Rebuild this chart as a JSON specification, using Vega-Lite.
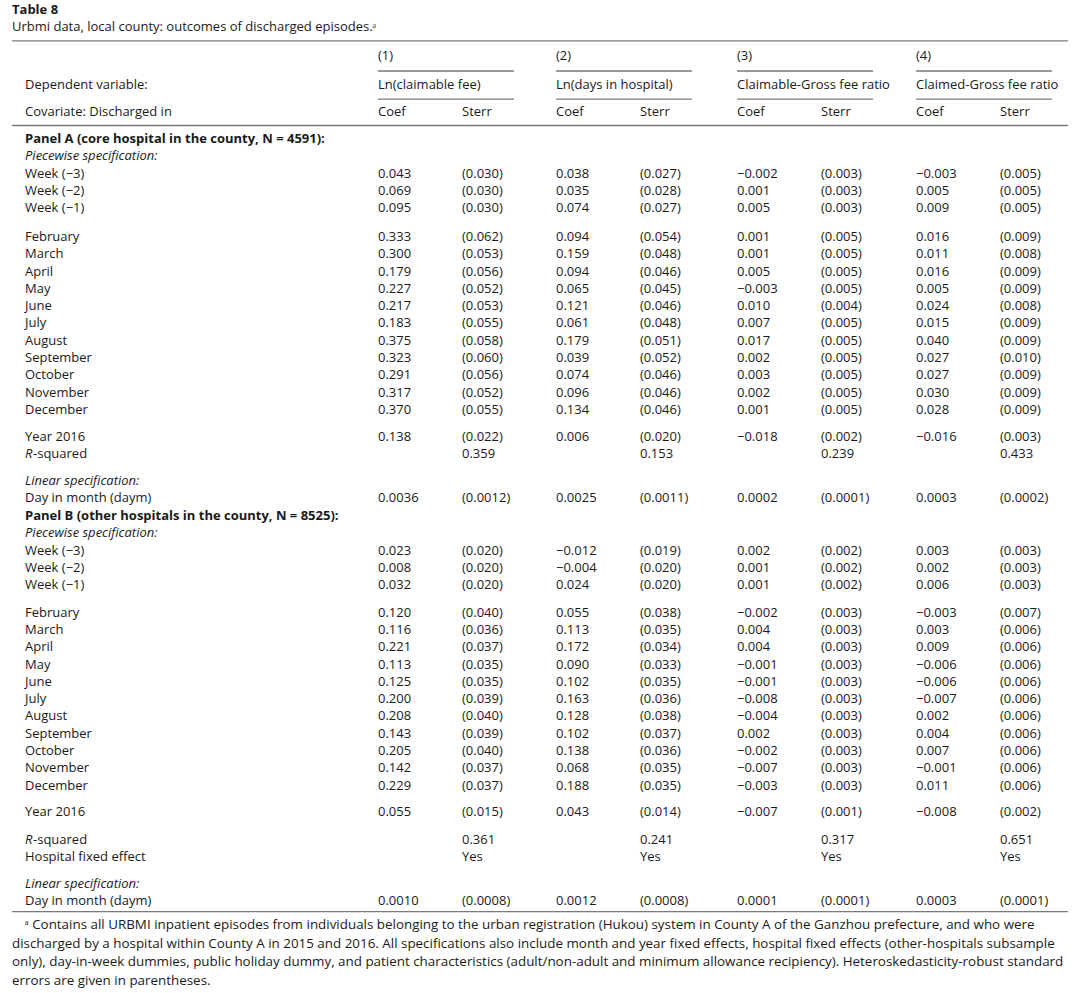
{
 "$schema": "https://vega.github.io/schema/vega-lite/v6.json",
 "width": 1080, "height": 993,
 "autosize": {"type": "fit", "contains": "padding"},
 "padding": 0,
 "background": "white",
 "config": {"view": {"stroke": null}, "text": {"font": "Open Sans", "fontSize": 13, "color": "#1a1a1a", "align": "left", "baseline": "middle"}},
 "datasets": {
  "cols": [
   {"key": "t0", "col": 0}, {"key": "lab", "col": 1}, {"key": "li", "col": 1}, {"key": "lr", "col": 1},
   {"key": "c1", "col": 2}, {"key": "s1", "col": 3},
   {"key": "c2", "col": 4}, {"key": "s2", "col": 5},
   {"key": "c3", "col": 6}, {"key": "s3", "col": 7},
   {"key": "c4", "col": 8}, {"key": "s4", "col": 9}
  ],
  "rules": [
   {"r": -5.67, "a": 0, "b": 10, "kind": "full"},
   {"r": -0.78, "a": 0, "b": 10, "kind": "full"},
   {"r": 44.66, "a": 0, "b": 10, "kind": "full"},
   {"r": -3.93, "a": 2, "b": 3, "kind": "under"},
   {"r": -3.93, "a": 4, "b": 5, "kind": "under"},
   {"r": -3.93, "a": 6, "b": 7, "kind": "under"},
   {"r": -3.93, "a": 8, "b": 9, "kind": "under"},
   {"r": -2.30, "a": 2, "b": 3, "kind": "under"},
   {"r": -2.30, "a": 4, "b": 5, "kind": "under"},
   {"r": -2.30, "a": 6, "b": 7, "kind": "under"},
   {"r": -2.30, "a": 8, "b": 9, "kind": "under"}
  ],
  "rows": [
   {"r": -7.47, "role": "title", "t0": "Table 8"},
   {"r": -6.5, "role": "caption", "t0": "Urbmi data, local county: outcomes of discharged episodes.ᵃ"},
   {"r": -4.82, "role": "head", "c1": "(1)", "c2": "(2)", "c3": "(3)", "c4": "(4)"},
   {"r": -3.14, "role": "head", "lab": "Dependent variable:", "c1": "Ln(claimable fee)", "c2": "Ln(days in hospital)", "c3": "Claimable-Gross fee ratio", "c4": "Claimed-Gross fee ratio"},
   {"r": -1.55, "role": "head", "lab": "Covariate: Discharged in", "c1": "Coef", "s1": "Sterr", "c2": "Coef", "s2": "Sterr", "c3": "Coef", "s3": "Sterr", "c4": "Coef", "s4": "Sterr"},

   {"r": 0, "role": "panel", "lab": "Panel A (core hospital in the county, N = 4591):"},
   {"r": 1, "role": "spec", "lab": "Piecewise specification:"},
   {"r": 2, "role": "row", "lab": "Week (−3)", "c1": "0.043", "s1": "(0.030)", "c2": "0.038", "s2": "(0.027)", "c3": "−0.002", "s3": "(0.003)", "c4": "−0.003", "s4": "(0.005)"},
   {"r": 3, "role": "row", "lab": "Week (−2)", "c1": "0.069", "s1": "(0.030)", "c2": "0.035", "s2": "(0.028)", "c3": "0.001", "s3": "(0.003)", "c4": "0.005", "s4": "(0.005)"},
   {"r": 4, "role": "row", "lab": "Week (−1)", "c1": "0.095", "s1": "(0.030)", "c2": "0.074", "s2": "(0.027)", "c3": "0.005", "s3": "(0.003)", "c4": "0.009", "s4": "(0.005)"},
   {"r": 5.66, "role": "row", "lab": "February", "c1": "0.333", "s1": "(0.062)", "c2": "0.094", "s2": "(0.054)", "c3": "0.001", "s3": "(0.005)", "c4": "0.016", "s4": "(0.009)"},
   {"r": 6.66, "role": "row", "lab": "March", "c1": "0.300", "s1": "(0.053)", "c2": "0.159", "s2": "(0.048)", "c3": "0.001", "s3": "(0.005)", "c4": "0.011", "s4": "(0.008)"},
   {"r": 7.66, "role": "row", "lab": "April", "c1": "0.179", "s1": "(0.056)", "c2": "0.094", "s2": "(0.046)", "c3": "0.005", "s3": "(0.005)", "c4": "0.016", "s4": "(0.009)"},
   {"r": 8.66, "role": "row", "lab": "May", "c1": "0.227", "s1": "(0.052)", "c2": "0.065", "s2": "(0.045)", "c3": "−0.003", "s3": "(0.005)", "c4": "0.005", "s4": "(0.009)"},
   {"r": 9.66, "role": "row", "lab": "June", "c1": "0.217", "s1": "(0.053)", "c2": "0.121", "s2": "(0.046)", "c3": "0.010", "s3": "(0.004)", "c4": "0.024", "s4": "(0.008)"},
   {"r": 10.66, "role": "row", "lab": "July", "c1": "0.183", "s1": "(0.055)", "c2": "0.061", "s2": "(0.048)", "c3": "0.007", "s3": "(0.005)", "c4": "0.015", "s4": "(0.009)"},
   {"r": 11.66, "role": "row", "lab": "August", "c1": "0.375", "s1": "(0.058)", "c2": "0.179", "s2": "(0.051)", "c3": "0.017", "s3": "(0.005)", "c4": "0.040", "s4": "(0.009)"},
   {"r": 12.66, "role": "row", "lab": "September", "c1": "0.323", "s1": "(0.060)", "c2": "0.039", "s2": "(0.052)", "c3": "0.002", "s3": "(0.005)", "c4": "0.027", "s4": "(0.010)"},
   {"r": 13.66, "role": "row", "lab": "October", "c1": "0.291", "s1": "(0.056)", "c2": "0.074", "s2": "(0.046)", "c3": "0.003", "s3": "(0.005)", "c4": "0.027", "s4": "(0.009)"},
   {"r": 14.66, "role": "row", "lab": "November", "c1": "0.317", "s1": "(0.052)", "c2": "0.096", "s2": "(0.046)", "c3": "0.002", "s3": "(0.005)", "c4": "0.030", "s4": "(0.009)"},
   {"r": 15.66, "role": "row", "lab": "December", "c1": "0.370", "s1": "(0.055)", "c2": "0.134", "s2": "(0.046)", "c3": "0.001", "s3": "(0.005)", "c4": "0.028", "s4": "(0.009)"},
   {"r": 17.23, "role": "row", "lab": "Year 2016", "c1": "0.138", "s1": "(0.022)", "c2": "0.006", "s2": "(0.020)", "c3": "−0.018", "s3": "(0.002)", "c4": "−0.016", "s4": "(0.003)"},
   {"r": 18.23, "role": "row", "li": "R", "lr": "-squared", "s1": "0.359", "s2": "0.153", "s3": "0.239", "s4": "0.433"},
   {"r": 19.77, "role": "spec", "lab": "Linear specification:"},
   {"r": 20.77, "role": "row", "lab": "Day in month (daym)", "c1": "0.0036", "s1": "(0.0012)", "c2": "0.0025", "s2": "(0.0011)", "c3": "0.0002", "s3": "(0.0001)", "c4": "0.0003", "s4": "(0.0002)"},

   {"r": 21.79, "role": "panel", "lab": "Panel B (other hospitals in the county, N = 8525):"},
   {"r": 22.79, "role": "spec", "lab": "Piecewise specification:"},
   {"r": 23.79, "role": "row", "lab": "Week (−3)", "c1": "0.023", "s1": "(0.020)", "c2": "−0.012", "s2": "(0.019)", "c3": "0.002", "s3": "(0.002)", "c4": "0.003", "s4": "(0.003)"},
   {"r": 24.79, "role": "row", "lab": "Week (−2)", "c1": "0.008", "s1": "(0.020)", "c2": "−0.004", "s2": "(0.020)", "c3": "0.001", "s3": "(0.002)", "c4": "0.002", "s4": "(0.003)"},
   {"r": 25.79, "role": "row", "lab": "Week (−1)", "c1": "0.032", "s1": "(0.020)", "c2": "0.024", "s2": "(0.020)", "c3": "0.001", "s3": "(0.002)", "c4": "0.006", "s4": "(0.003)"},
   {"r": 27.38, "role": "row", "lab": "February", "c1": "0.120", "s1": "(0.040)", "c2": "0.055", "s2": "(0.038)", "c3": "−0.002", "s3": "(0.003)", "c4": "−0.003", "s4": "(0.007)"},
   {"r": 28.38, "role": "row", "lab": "March", "c1": "0.116", "s1": "(0.036)", "c2": "0.113", "s2": "(0.035)", "c3": "0.004", "s3": "(0.003)", "c4": "0.003", "s4": "(0.006)"},
   {"r": 29.38, "role": "row", "lab": "April", "c1": "0.221", "s1": "(0.037)", "c2": "0.172", "s2": "(0.034)", "c3": "0.004", "s3": "(0.003)", "c4": "0.009", "s4": "(0.006)"},
   {"r": 30.38, "role": "row", "lab": "May", "c1": "0.113", "s1": "(0.035)", "c2": "0.090", "s2": "(0.033)", "c3": "−0.001", "s3": "(0.003)", "c4": "−0.006", "s4": "(0.006)"},
   {"r": 31.38, "role": "row", "lab": "June", "c1": "0.125", "s1": "(0.035)", "c2": "0.102", "s2": "(0.035)", "c3": "−0.001", "s3": "(0.003)", "c4": "−0.006", "s4": "(0.006)"},
   {"r": 32.38, "role": "row", "lab": "July", "c1": "0.200", "s1": "(0.039)", "c2": "0.163", "s2": "(0.036)", "c3": "−0.008", "s3": "(0.003)", "c4": "−0.007", "s4": "(0.006)"},
   {"r": 33.38, "role": "row", "lab": "August", "c1": "0.208", "s1": "(0.040)", "c2": "0.128", "s2": "(0.038)", "c3": "−0.004", "s3": "(0.003)", "c4": "0.002", "s4": "(0.006)"},
   {"r": 34.38, "role": "row", "lab": "September", "c1": "0.143", "s1": "(0.039)", "c2": "0.102", "s2": "(0.037)", "c3": "0.002", "s3": "(0.003)", "c4": "0.004", "s4": "(0.006)"},
   {"r": 35.38, "role": "row", "lab": "October", "c1": "0.205", "s1": "(0.040)", "c2": "0.138", "s2": "(0.036)", "c3": "−0.002", "s3": "(0.003)", "c4": "0.007", "s4": "(0.006)"},
   {"r": 36.38, "role": "row", "lab": "November", "c1": "0.142", "s1": "(0.037)", "c2": "0.068", "s2": "(0.035)", "c3": "−0.007", "s3": "(0.003)", "c4": "−0.001", "s4": "(0.006)"},
   {"r": 37.38, "role": "row", "lab": "December", "c1": "0.229", "s1": "(0.037)", "c2": "0.188", "s2": "(0.035)", "c3": "−0.003", "s3": "(0.003)", "c4": "0.011", "s4": "(0.006)"},
   {"r": 38.9, "role": "row", "lab": "Year 2016", "c1": "0.055", "s1": "(0.015)", "c2": "0.043", "s2": "(0.014)", "c3": "−0.007", "s3": "(0.001)", "c4": "−0.008", "s4": "(0.002)"},
   {"r": 40.5, "role": "row", "li": "R", "lr": "-squared", "s1": "0.361", "s2": "0.241", "s3": "0.317", "s4": "0.651"},
   {"r": 41.5, "role": "row", "lab": "Hospital fixed effect", "s1": "Yes", "s2": "Yes", "s3": "Yes", "s4": "Yes"},
   {"r": 43.06, "role": "spec", "lab": "Linear specification:"},
   {"r": 44.06, "role": "row", "lab": "Day in month (daym)", "c1": "0.0010", "s1": "(0.0008)", "c2": "0.0012", "s2": "(0.0008)", "c3": "0.0001", "s3": "(0.0001)", "c4": "0.0003", "s4": "(0.0001)"},

   {"r": 45.44, "role": "note", "lab": "ᵃ Contains all URBMI inpatient episodes from individuals belonging to the urban registration (Hukou) system in County A of the Ganzhou prefecture, and who were"},
   {"r": 46.52, "role": "note", "t0": "discharged by a hospital within County A in 2015 and 2016. All specifications also include month and year fixed effects, hospital fixed effects (other-hospitals subsample"},
   {"r": 47.6, "role": "note", "t0": "only), day-in-week dummies, public holiday dummy, and patient characteristics (adult/non-adult and minimum allowance recipiency). Heteroskedasticity-robust standard"},
   {"r": 48.68, "role": "note", "t0": "errors are given in parentheses."}
  ]
 },
 "layer": [
  {
   "data": {"name": "rules"},
   "transform": [{"filter": "datum.kind == 'full'"}],
   "mark": {"type": "rule", "color": "#7a7a7a", "strokeWidth": 1.4},
   "encoding": {
    "x": {"field": "a", "type": "quantitative", "axis": null, "scale": {"domain": [0, 1, 2, 3, 4, 5, 6, 7, 8, 9, 10], "range": [12, 25, 378, 462, 556, 640, 737, 821, 916, 1000, 1068], "zero": false, "nice": false}},
    "x2": {"field": "b"},
    "y": {"field": "r", "type": "quantitative", "axis": null, "scale": {"domain": [0, 40], "range": [139, 831], "zero": false, "nice": false}}
   }
  },
  {
   "data": {"name": "rules"},
   "transform": [{"filter": "datum.kind == 'under'"}],
   "mark": {"type": "rule", "color": "#7a7a7a", "strokeWidth": 1.3, "x2Offset": 52},
   "encoding": {
    "x": {"field": "a", "type": "quantitative", "axis": null, "scale": {"domain": [0, 1, 2, 3, 4, 5, 6, 7, 8, 9, 10], "range": [12, 25, 378, 462, 556, 640, 737, 821, 916, 1000, 1068], "zero": false, "nice": false}},
    "x2": {"field": "b"},
    "y": {"field": "r", "type": "quantitative", "axis": null, "scale": {"domain": [0, 40], "range": [139, 831], "zero": false, "nice": false}}
   }
  },
  {
   "data": {"name": "rows"},
   "transform": [
    {"fold": ["t0", "lab", "li", "lr", "c1", "s1", "c2", "s2", "c3", "s3", "c4", "s4"], "as": ["key", "t"]},
    {"filter": "isValid(datum.t)"},
    {"lookup": "key", "from": {"data": {"name": "cols"}, "key": "key", "fields": ["col"]}}
   ],
   "encoding": {
    "x": {"field": "col", "type": "quantitative", "axis": null, "scale": {"domain": [0, 1, 2, 3, 4, 5, 6, 7, 8, 9, 10], "range": [12, 25, 378, 462, 556, 640, 737, 821, 916, 1000, 1068], "zero": false, "nice": false}},
    "y": {"field": "r", "type": "quantitative", "axis": null, "scale": {"domain": [0, 40], "range": [139, 831], "zero": false, "nice": false}},
    "text": {"field": "t", "type": "nominal"}
   },
   "layer": [
    {"transform": [{"filter": "datum.role != 'panel' && datum.role != 'title' && datum.role != 'spec' && datum.role != 'note' && datum.key != 'li' && datum.key != 'lr'"}], "mark": {"type": "text"}},
    {"transform": [{"filter": "datum.role == 'note'"}], "mark": {"type": "text", "fontSize": 13.4}},
    {"transform": [{"filter": "datum.role == 'panel' || datum.role == 'title'"}], "mark": {"type": "text", "fontWeight": "bold"}},
    {"transform": [{"filter": "datum.role == 'spec' || datum.key == 'li'"}], "mark": {"type": "text", "fontStyle": "italic"}},
    {"transform": [{"filter": "datum.key == 'lr'"}], "mark": {"type": "text", "dx": 8}}
   ]
  }
 ]
}
